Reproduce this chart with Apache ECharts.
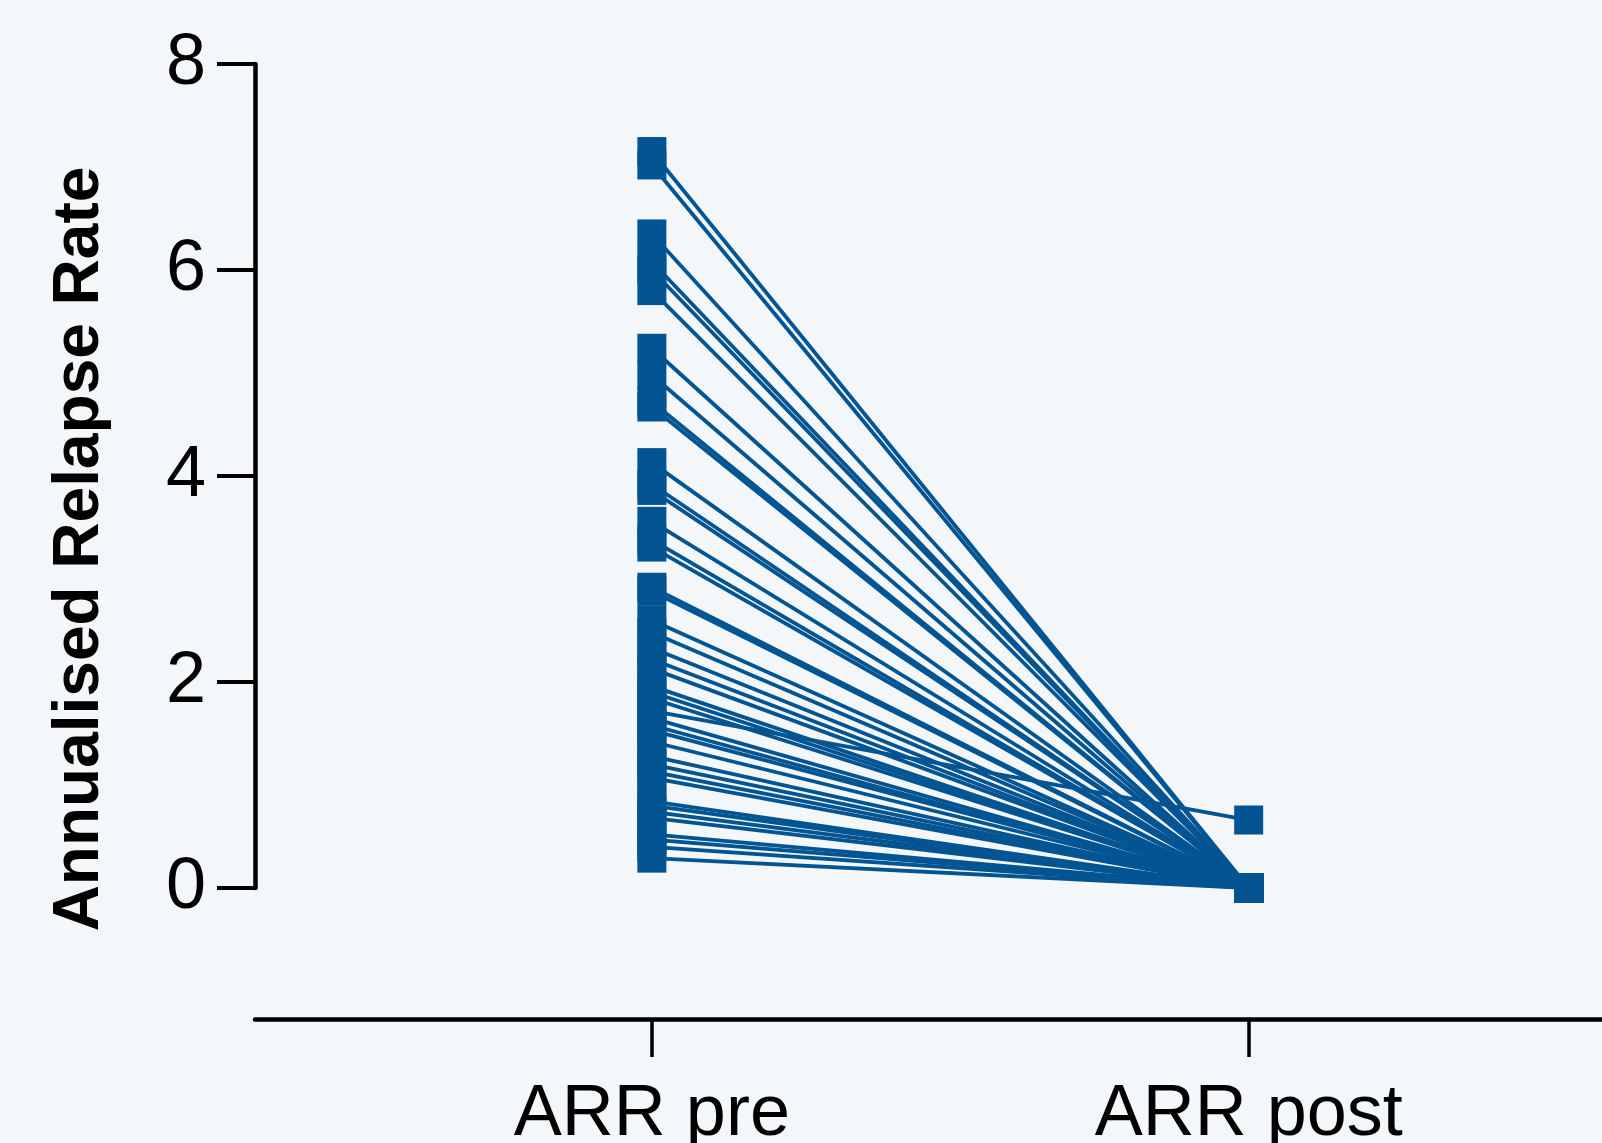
<!DOCTYPE html>
<html>
<head>
<meta charset="utf-8">
<script src="https://cdn.jsdelivr.net/npm/echarts@6/dist/echarts.min.js"></script>
<style>
html,body{margin:0;padding:0;background:#f3f7fa;}
#chart{width:1602px;height:1143px;}
</style>
</head>
<body>
<div id="chart"></div>
<script>
// Categories (x axis)
const categories = ['ARR pre', 'ARR post'];
// Y-axis tick labels
const yTicks = [0, 2, 4, 6, 8];
// Pre-treatment annualised relapse rate per patient
const arrPre = [7.15, 7.02, 6.35, 6.08, 6.0, 5.8, 5.24, 4.98, 4.72, 4.67,
  4.13, 3.92, 3.86, 3.56, 3.38, 3.31, 2.92, 2.88, 2.6, 2.48,
  2.33, 2.22, 2.13, 1.96, 1.9, 1.84, 1.72, 1.65, 1.58, 1.53,
  1.42, 1.28, 1.2, 1.13, 1.07, 0.84, 0.8, 0.74, 0.68, 0.52,
  0.47, 0.4, 0.29];
// Post-treatment annualised relapse rate per patient
const arrPost = [0, 0, 0, 0, 0, 0, 0, 0, 0, 0,
  0, 0, 0, 0, 0, 0, 0, 0, 0, 0,
  0, 0, 0, 0, 0, 0, 0.66, 0, 0, 0,
  0, 0, 0, 0, 0, 0, 0, 0, 0, 0,
  0, 0, 0];

const BLUE = '#035492';
const FONT = "'Liberation Sans', Arial, Helvetica, sans-serif";

const series = arrPre.map((pre, i) => ({
  type: 'line',
  data: [[0, pre], [1, arrPost[i]]],
  symbol: 'rect',
  symbolSize: 29,
  clip: false,
  silent: true,
  animation: false,
  lineStyle: { color: BLUE, width: 3.8 },
  itemStyle: { color: BLUE }
}));

const chart = echarts.init(document.getElementById('chart'), null, { renderer: 'canvas' });
chart.setOption({
  backgroundColor: '#f3f7fa',
  animation: false,
  grid: { left: 255, right: 0, top: 64, bottom: 255, containLabel: false, outerBoundsMode: 'none' },
  xAxis: {
    type: 'value',
    min: -0.665,
    max: 1.592,
    offset: 131,
    splitLine: { show: false },
    axisLine: { show: true, onZero: false, lineStyle: { color: '#000', width: 4.5 } },
    axisTick: { show: true, length: 38, customValues: [0, 1], lineStyle: { color: '#000', width: 3.5 } },
    axisLabel: {
      show: true,
      customValues: [0, 1],
      formatter: v => categories[Math.round(v)],
      fontSize: 72,
      fontFamily: FONT,
      color: '#000',
      margin: 60
    }
  },
  yAxis: {
    type: 'value',
    min: yTicks[0],
    max: yTicks[yTicks.length - 1],
    interval: 2,
    name: 'Annualised Relapse Rate',
    nameLocation: 'middle',
    nameGap: 143,
    nameTextStyle: {
      fontSize: 64,
      fontWeight: 'bold',
      fontFamily: FONT,
      color: '#000',
      padding: [0, 146, 0, 0]
    },
    splitLine: { show: false },
    axisLine: { show: true, onZero: false, lineStyle: { color: '#000', width: 4.5 } },
    axisTick: { show: true, length: 38, lineStyle: { color: '#000', width: 4 } },
    axisLabel: {
      fontSize: 72,
      fontFamily: FONT,
      color: '#000',
      margin: 49
    }
  },
  series: series
});
</script>
</body>
</html>
